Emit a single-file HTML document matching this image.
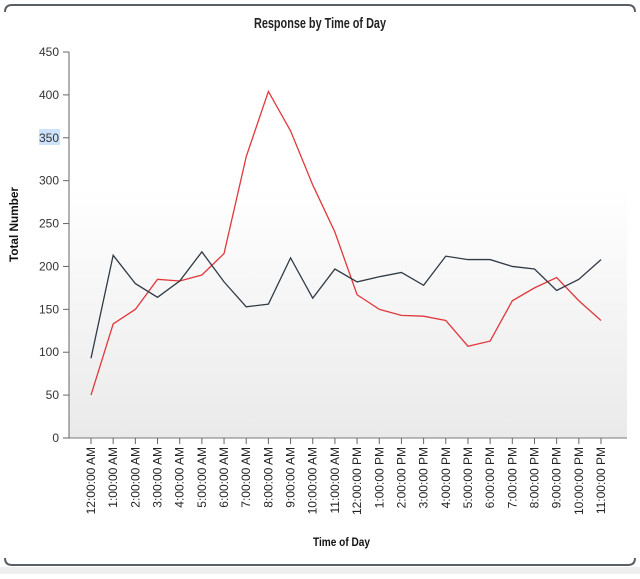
<!DOCTYPE html>
<html><head><meta charset="utf-8"><style>
html,body{margin:0;padding:0;background:#fff;}
body{width:640px;height:574px;overflow:hidden;position:relative;font-family:"Liberation Sans",sans-serif;}
svg text{font-family:"Liberation Sans",sans-serif;}
.t{font-family:"Liberation Sans Narrow","Liberation Sans",sans-serif;font-weight:bold;}
</style></head><body>
<svg id="chart" width="640" height="574">
<defs><linearGradient id="bg" x1="0" y1="0" x2="0" y2="1">
<stop offset="0" stop-color="#fff"/><stop offset="0.35" stop-color="#fff"/><stop offset="1" stop-color="#eaeaea"/></linearGradient></defs>
<rect x="0" y="567" width="640" height="7" fill="#eeeeee"/>
<path d="M5,12 Q5,5 12,5 L628,5 Q635,5 635,12" fill="none" stroke="#5a5f66" stroke-width="2"/>
<path d="M5,558 Q5,565 12,565 L628,565 Q635,565 635,558" fill="none" stroke="#5a5f66" stroke-width="2"/>
<rect x="69" y="52" width="558" height="386" fill="url(#bg)"/>
<rect x="39" y="129" width="21" height="16" fill="#cde3fb"/>
<text x="254" y="28" textLength="132" lengthAdjust="spacingAndGlyphs" class="t" font-size="15" fill="#222">Response by Time of Day</text>
<text transform="translate(18,262) rotate(-90)" textLength="75" lengthAdjust="spacingAndGlyphs" class="t" font-size="12" fill="#111">Total Number</text>
<text x="313" y="546" textLength="57" lengthAdjust="spacingAndGlyphs" class="t" font-size="12" fill="#111">Time of Day</text>
<g id="axes"></g><g id="series"></g>
</svg>
<script>
const categories=["12:00:00 AM","1:00:00 AM","2:00:00 AM","3:00:00 AM","4:00:00 AM","5:00:00 AM","6:00:00 AM","7:00:00 AM","8:00:00 AM","9:00:00 AM","10:00:00 AM","11:00:00 AM","12:00:00 PM","1:00:00 PM","2:00:00 PM","3:00:00 PM","4:00:00 PM","5:00:00 PM","6:00:00 PM","7:00:00 PM","8:00:00 PM","9:00:00 PM","10:00:00 PM","11:00:00 PM"];
const redSeries=[50,133,150,185,183,190,215,328,404,358,295,240,167,150,143,142,137,107,113,160,175,187,160,137];
const darkSeries=[93,213,180,164,183,217,182,153,156,210,163,197,182,188,193,178,212,208,208,200,197,172,185,208];
const yTicks=[0,50,100,150,200,250,300,350,400,450];
const NS="http://www.w3.org/2000/svg";
const x0=91,x1=601,y0=438,y1=52,yMax=450;
function xs(i){return x0+(x1-x0)*i/(categories.length-1);}
function ys(v){return y0-(y0-y1)*v/yMax;}
function mk(t,a,p){const e=document.createElementNS(NS,t);for(const k in a)e.setAttribute(k,a[k]);p.appendChild(e);return e;}
const ax=document.getElementById('axes');
const ya=mk('line',{x1:69,y1:y1,x2:69,y2:y0,stroke:'#666','stroke-width':1},ax);


const xa=mk('line',{x1:63,y1:y0,x2:627,y2:y0,stroke:'#777','stroke-width':1},ax);


yTicks.forEach(v=>{
  const y=ys(v);
  const tk=mk('line',{x1:63,y1:y,x2:69,y2:y,stroke:'#666'},ax);
  
  
  const t=mk('text',{x:59,y:y+4,'text-anchor':'end','font-size':12,fill:'#333'},ax);
  t.textContent=v;
  
  
});
categories.forEach((c,i)=>{
  const x=xs(i);
  const tk=mk('line',{x1:x,y1:y0,x2:x,y2:y0+6,stroke:'#666'},ax);
  
  
  const t=mk('text',{transform:`translate(${x+4},${y0+9}) rotate(-90)`,'text-anchor':'end','font-size':12,fill:'#222'},ax);
  t.textContent=c;
  
  
});
const sg=document.getElementById('series');
function line(data,color,name){
  const p=mk('polyline',{points:data.map((v,i)=>xs(i)+','+ys(v)).join(' '),fill:'none',stroke:color,'stroke-width':1.3},sg);
  
  
}
line(redSeries,'#e0383c','series-red-line');
line(darkSeries,'#2f3a45','series-dark-line');
</script>
</body></html>
